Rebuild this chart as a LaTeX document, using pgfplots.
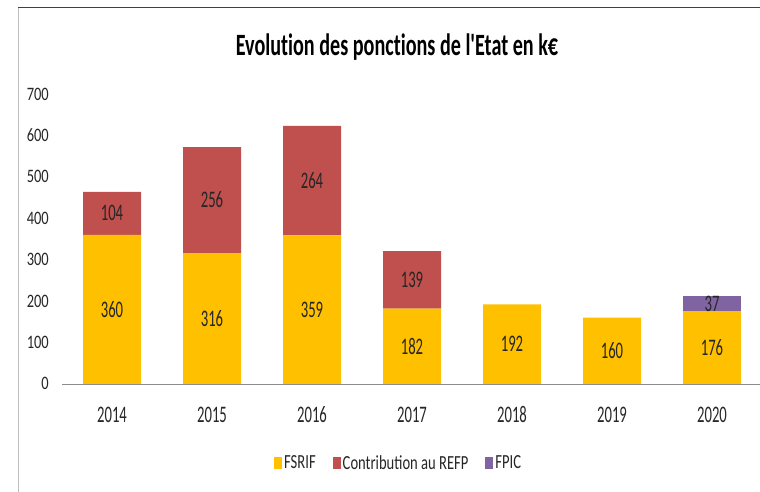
\documentclass[border=0pt]{standalone}
\usepackage{pgfplots}
\pgfplotsset{compat=1.18}
\usepackage{fontspec}
\setmainfont{Carlito}
\newfontfamily\cfont{Carlito}[FakeStretch=0.62]
\newfontfamily\tfont{Carlito}[FakeStretch=0.65, Ligatures=NoCommon]
\newfontfamily\yfont{Carlito}[FakeStretch=0.76]
\newfontfamily\lfont{Carlito}[FakeStretch=0.73]

\definecolor{fsrif}{HTML}{FFC000}
\definecolor{refp}{HTML}{C0504D}
\definecolor{fpic}{HTML}{8064A2}
\definecolor{txt}{HTML}{262626}

\begin{document}
\begin{tikzpicture}[x=1pt,y=1pt]
\useasboundingbox (0,0) rectangle (760,492);
% frame of the original picture
\draw[black!75, line width=1pt] (18,484) -- (760,484);
\draw[black!25, line width=0.8pt] (18,484) -- (18,0);
% title
\node[anchor=base, inner sep=0pt] at (397,436)
  {\fontsize{31}{36}\tfont\bfseries Evolution des ponctions de l'Etat en k€};

\begin{axis}[
    at={(62pt,108pt)}, anchor=south west,
    scale only axis, width=700pt, height=290pt,
    ybar stacked, bar width=58pt,
    xmin=-0.5, xmax=6.5, ymin=0, ymax=700,
    xtick={0,...,6},
    xticklabels={2014,2015,2016,2017,2018,2019,2020},
    ytick={0,100,...,700},
    /pgf/number format/assume math mode=true,
    axis x line*=bottom, axis y line*=left,
    x axis line style={draw=black!45, line width=0.8pt},
    y axis line style={draw=none},
    major tick length=0pt,
    xticklabel style={inner sep=0pt, anchor=base, yshift=-39pt,
        font=\fontsize{23.7}{26}\cfont, text=txt},
    yticklabel style={inner sep=0pt, anchor=base east, xshift=-13pt, yshift=-6pt,
        font=\fontsize{19}{22}\yfont, text=txt},
    point meta=rawy,
    nodes near coords={\pgfmathfloatifflags{\pgfplotspointmeta}{0}{}{\pgfmathprintnumber{\pgfplotspointmeta}}},
    every node near coord/.append style={anchor=center, inner sep=0pt,
        font=\fontsize{23.7}{26}\cfont, text=txt},
    legend columns=3,
    legend style={at={(axis description cs:0.481,-0.272)}, anchor=center,
        draw=none, fill=none, font=\fontsize{20}{24}\lfont, text=txt,
        /tikz/every even column/.append style={column sep=15pt}},
]
\addplot[fill=fsrif, draw=none,
    legend image code/.code={\fill[fsrif] (0pt,-6pt) rectangle (8pt,6pt);}]
    coordinates {(0,360) (1,316) (2,359) (3,182) (4,192) (5,160) (6,176)};
\addplot[fill=refp, draw=none,
    legend image code/.code={\fill[refp] (0pt,-6pt) rectangle (8pt,6pt);}]
    coordinates {(0,104) (1,256) (2,264) (3,139) (4,0) (5,0) (6,0)};
\addplot[fill=fpic, draw=none,
    legend image code/.code={\fill[fpic] (0pt,-6pt) rectangle (8pt,6pt);}]
    coordinates {(0,0) (1,0) (2,0) (3,0) (4,0) (5,0) (6,37)};
\legend{FSRIF, Contribution au REFP, FPIC}
\end{axis}
\end{tikzpicture}
\end{document}
